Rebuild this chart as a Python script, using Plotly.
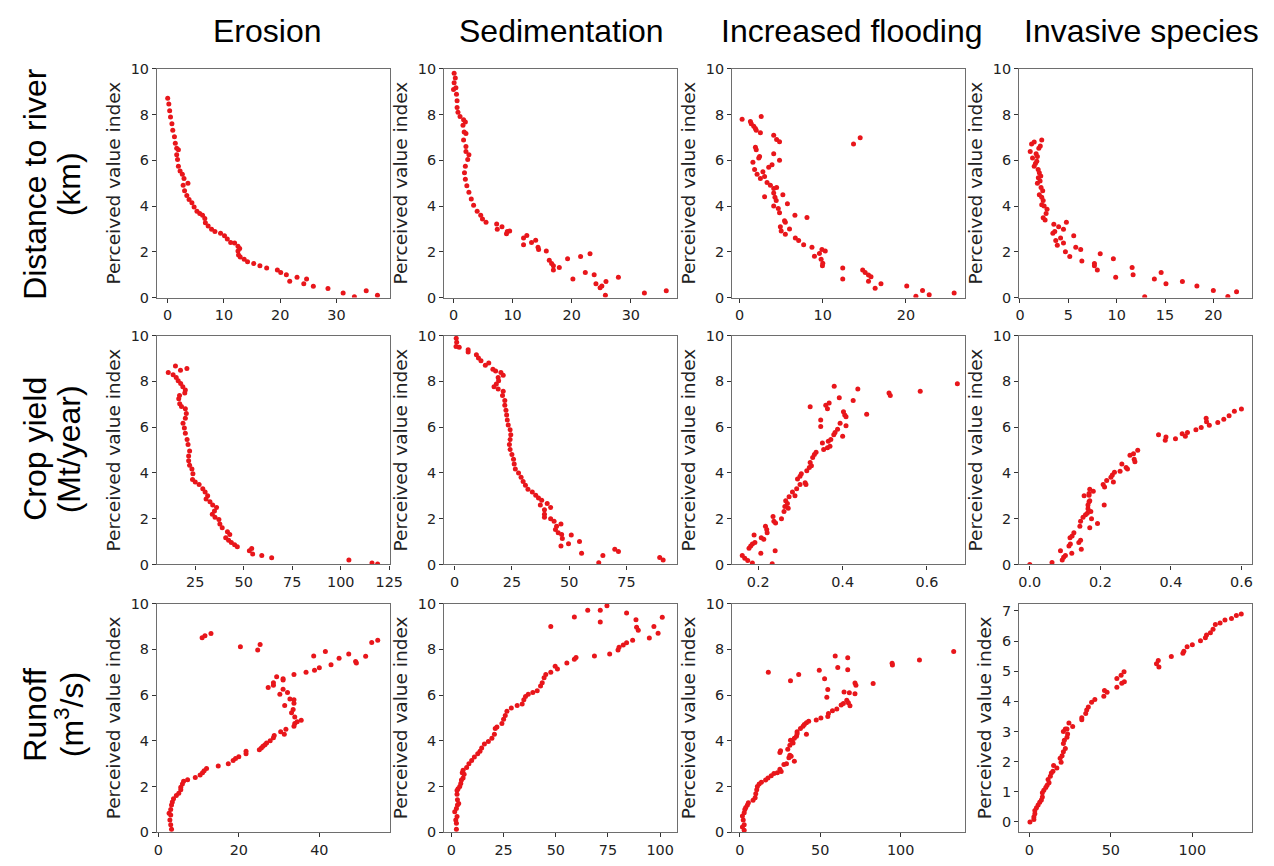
import plotly.graph_objects as go

# ---------------- data ----------------
# Row 1: Distance to river (km)
dist_erosion_x = [0, 0.2, 0.35, 0.5, 0.75, 0.9, 1.2, 1.35, 1.6, 1.9, 1.6, 1.75, 1.9, 2.2, 2.6, 2.9, 3.6, 2.75, 3.0, 3.4,
                  3.8, 4.3, 4.7, 5.2, 5.7, 6.2, 6.6, 6.7, 7.2, 7.8, 8.4, 9.4, 10.1, 10.6, 11.2, 11.9, 12.5, 12.8, 12.5, 12.6,
                  12.9, 13.6, 14.2, 15.3, 16.4, 17.6, 19.5, 20.1, 21.1, 21.7, 23.0, 24.2, 24.7, 25.9, 28.5, 31.2, 33.2, 35.3, 37.3]
dist_erosion_y = [8.71, 8.46, 8.17, 7.89, 7.6, 7.31, 7.03, 6.74, 6.53, 6.46, 6.24, 6.03, 5.74, 5.53, 5.39, 5.2, 5.0, 4.91, 4.67, 4.46,
                  4.29, 4.14, 3.96, 3.77, 3.67, 3.6, 3.46, 3.27, 3.13, 2.99, 2.89, 2.81, 2.7, 2.56, 2.41, 2.39, 2.24, 2.14, 2.03, 1.86,
                  1.77, 1.67, 1.57, 1.49, 1.39, 1.29, 1.2, 1.1, 1.0, 0.71, 0.89, 0.6, 0.81, 0.49, 0.4, 0.2, 0.03, 0.3, 0.1]

dist_sed_x = [0.1, 0.3, 0.1, 0.0, 0.4, 0.5, 0.6, 0.6, 0.75, 1.1, 1.7, 2.0, 1.6, 1.8, 2.1, 1.7, 2.1, 2.1, 2.6, 2.4,
              2.0, 1.85, 2.0, 2.25, 2.6, 3.0, 3.4, 4.0, 4.6, 4.9, 5.5, 7.3, 7.4, 8.2, 9.1, 9.5, 8.96, 11.85, 12.4, 11.85,
              13.2, 13.9, 14.3, 14.4, 15.7, 16.2, 16.6, 16.9, 16.9, 17.9, 19.3, 20.2, 21.5, 22.3, 23.1, 23.8, 24.1, 24.8, 25.1, 25.8,
              25.7, 27.9, 32.3, 36.0]
dist_sed_y = [9.81, 9.6, 9.39, 9.1, 9.17, 8.89, 8.6, 8.31, 8.1, 7.91, 7.77, 7.67, 7.53, 7.24, 7.17, 6.89, 6.6, 6.39, 6.24, 6.03,
              5.74, 5.46, 5.17, 4.89, 4.6, 4.31, 4.03, 3.77, 3.6, 3.43, 3.29, 3.21, 2.99, 3.1, 2.89, 2.91, 2.79, 2.6, 2.71, 2.31,
              2.41, 2.51, 2.2, 2.1, 2.03, 1.63, 1.49, 1.39, 1.21, 1.31, 1.7, 0.81, 1.79, 1.1, 1.91, 1.0, 0.6, 0.43, 0.51, 0.7,
              0.1, 0.89, 0.2, 0.3]

dist_flood_x = [0.3, 1.3, 1.4, 1.7, 1.9, 2.6, 2.0, 2.5, 4.1, 4.45, 4.8, 1.9, 2.0, 2.4, 2.3, 4.1, 4.8, 1.6, 1.8, 2.1,
                2.5, 2.8, 3.0, 3.5, 3.9, 3.3, 3.7, 4.1, 4.45, 3.0, 4.1, 4.25, 5.2, 4.1, 4.4, 4.65, 4.8, 5.75, 5.4, 5.5,
                4.9, 5.0, 5.5, 6.0, 6.65, 6.7, 7.1, 7.7, 8.1, 8.7, 9.0, 9.6, 9.9, 10.3, 9.8, 10.0, 9.96, 12.4, 12.4, 13.7,
                14.5, 14.8, 15.1, 15.5, 15.8, 15.5, 16.3, 17.0, 20.1, 21.2, 22.0, 22.8, 25.8]
dist_flood_y = [7.79, 7.7, 7.6, 7.49, 7.39, 7.91, 7.31, 7.2, 7.1, 6.91, 6.81, 6.57, 6.46, 6.17, 6.1, 6.29, 6.0, 5.91, 5.6, 5.39,
                5.2, 5.5, 5.29, 5.7, 5.8, 5.03, 4.91, 4.77, 4.81, 4.41, 4.57, 4.39, 4.49, 4.0, 4.24, 3.89, 3.71, 4.1, 3.36, 3.29,
                3.1, 2.91, 2.77, 3.0, 3.6, 2.6, 2.49, 2.31, 3.5, 2.2, 1.81, 1.93, 2.1, 2.03, 1.67, 1.5, 1.39, 1.29, 0.81, 6.71,
                6.99, 1.21, 1.1, 0.99, 0.91, 0.71, 0.41, 0.6, 0.5, 0.06, 0.31, 0.12, 0.2]

dist_inv_x = [1.06, 1.3, 1.2, 1.47, 2.25, 1.67, 1.8, 1.95, 2.1, 1.47, 1.6, 1.74, 1.88, 2.0, 2.15, 1.9, 1.8, 2.08, 2.18, 2.35,
              2.0, 2.25, 2.4, 2.25, 2.5, 2.8, 2.7, 2.4, 2.6, 3.5, 3.4, 3.6, 4.0, 4.5, 4.8, 3.7, 3.86, 4.2, 4.5, 4.7,
              5.15, 5.56, 5.77, 6.28, 6.4, 8.3, 7.7, 7.7, 8.0, 9.66, 9.9, 11.6, 11.7, 12.9, 13.9, 14.6, 15.1, 16.8, 18.3, 20.0,
              21.5, 22.4]
dist_inv_y = [6.39, 6.1, 6.71, 6.8, 6.89, 6.29, 6.17, 6.53, 6.63, 5.74, 5.86, 5.96, 5.6, 5.46, 5.31, 5.24, 5.0, 5.1, 4.81, 4.67,
              4.49, 4.39, 4.24, 4.06, 4.0, 3.86, 3.67, 3.49, 3.39, 3.2, 2.81, 2.89, 3.1, 2.99, 3.29, 2.49, 2.29, 2.6, 2.39, 2.0,
              1.79, 2.7, 2.2, 2.1, 1.6, 1.91, 1.49, 1.39, 1.2, 1.7, 0.89, 1.31, 1.0, 0.03, 0.81, 1.1, 0.6, 0.7, 0.5, 0.31,
              0.05, 0.25]

# Row 2: Crop yield (Mt/year)
crop_erosion_x = [11.1, 14.8, 13.6, 17.4, 20.7, 15.2, 16.2, 17.5, 18.6, 19.9, 19.6, 16.9, 16.5, 17.0, 17.9, 19.9, 20.4, 19.9, 18.7, 19.4,
                  19.9, 20.8, 21.3, 22.1, 21.6, 21.6, 22.1, 23.3, 23.8, 23.6, 25.0, 27.0, 28.9, 30.1, 31.4, 30.6, 32.6, 34.0, 36.0, 34.9,
                  33.8, 35.2, 37.2, 37.7, 38.9, 41.6, 42.8, 40.7, 42.2, 43.6, 45.3, 46.7, 52.9, 54.1, 54.6, 59.3, 64.4, 104.2, 116.1, 119.0]
crop_erosion_y = [8.39, 8.67, 8.29, 8.49, 8.57, 8.17, 8.03, 7.91, 7.77, 7.63, 7.49, 7.39, 7.24, 7.03, 6.91, 6.81, 6.6, 6.39, 6.17, 5.96,
                  5.74, 5.46, 5.24, 4.96, 4.74, 4.53, 4.34, 4.17, 3.96, 3.71, 3.6, 3.49, 3.31, 3.17, 3.0, 2.86, 2.74, 2.6, 2.49, 2.34,
                  2.2, 2.06, 1.96, 1.77, 1.6, 1.43, 1.31, 1.17, 1.06, 0.96, 0.86, 0.77, 0.6, 0.7, 0.46, 0.39, 0.29, 0.2, 0.06, 0.02]

crop_sed_x = [0.7, 0.9, 0.6, 2.0, 5.9, 5.9, 9.5, 10.4, 11.5, 13.4, 14.9, 16.7, 17.9, 20.2, 21.2, 19.0, 19.2, 18.2, 17.2, 19.0,
              21.2, 20.9, 21.9, 21.9, 22.4, 22.7, 23.0, 23.4, 24.2, 24.5, 24.2, 23.9, 24.2, 25.0, 25.7, 26.0, 26.5, 27.9, 29.0, 29.9,
              30.9, 32.0, 33.9, 35.4, 36.6, 38.0, 37.4, 40.4, 41.9, 39.2, 39.2, 39.2, 41.9, 43.4, 46.4, 44.5, 44.0, 45.2, 46.7, 47.0,
              50.9, 49.7, 46.4, 54.5, 55.4, 62.9, 64.7, 69.9, 71.5, 89.5, 91.0]
crop_sed_y = [9.89, 9.71, 9.53, 9.49, 9.39, 9.29, 9.17, 9.03, 8.91, 8.71, 8.81, 8.53, 8.46, 8.39, 8.27, 8.17, 8.03, 7.89, 7.77, 7.67,
              7.57, 7.39, 7.17, 6.96, 6.74, 6.53, 6.31, 6.1, 5.89, 5.67, 5.46, 5.24, 5.03, 4.81, 4.6, 4.39, 4.17, 4.0, 3.81, 3.63,
              3.46, 3.29, 3.17, 3.03, 2.91, 2.81, 2.6, 2.67, 2.49, 2.39, 2.2, 2.06, 2.0, 1.89, 1.77, 1.67, 1.53, 1.39, 1.31, 1.14,
              1.29, 0.91, 0.81, 1.0, 0.49, 0.07, 0.39, 0.67, 0.57, 0.3, 0.2]

crop_flood_x = [0.162, 0.168, 0.175, 0.186, 0.178, 0.182, 0.186, 0.192, 0.19, 0.206, 0.207, 0.213, 0.217, 0.22, 0.221, 0.233, 0.235, 0.237,
                0.241, 0.24, 0.255, 0.261, 0.263, 0.265, 0.269, 0.271, 0.273, 0.281, 0.287, 0.291, 0.293, 0.299, 0.299, 0.302, 0.311,
                0.313, 0.315, 0.321, 0.323, 0.326, 0.329, 0.333, 0.337, 0.323, 0.348, 0.348, 0.352, 0.355, 0.36, 0.364, 0.368, 0.364,
                0.366, 0.37, 0.372, 0.379, 0.382, 0.388, 0.392, 0.38, 0.394, 0.4, 0.402, 0.405, 0.408, 0.408, 0.425, 0.436, 0.457,
                0.51, 0.513, 0.584, 0.672]
crop_flood_y = [0.39, 0.27, 0.17, 0.06, 0.71, 0.81, 0.89, 0.96, 1.29, 0.49, 1.17, 1.1, 1.67, 1.53, 1.39, 0.03, 2.1, 1.89,
                1.81, 0.6, 2.0, 2.31, 2.53, 2.79, 2.67, 2.46, 2.96, 3.17, 3.0, 3.31, 3.74, 3.49, 3.86, 3.96, 3.57,
                3.49, 4.1, 4.24, 4.46, 4.31, 4.67, 4.81, 4.91, 6.89, 6.31, 6.03, 5.31, 5.03, 6.96, 6.81, 7.06, 5.1,
                5.39, 5.17, 5.46, 5.67, 5.77, 5.91, 7.29, 7.79, 6.17, 5.6, 6.67, 6.53, 6.46, 6.06, 7.17, 7.67, 6.57,
                7.49, 7.39, 7.57, 7.9]

crop_inv_x = [0.0, 0.063, 0.087, 0.092, 0.096, 0.101, 0.111, 0.115, 0.114, 0.12, 0.125, 0.119, 0.139, 0.144, 0.146, 0.142, 0.144, 0.151,
              0.154, 0.158, 0.163, 0.165, 0.165, 0.168, 0.168, 0.17, 0.168, 0.17, 0.173, 0.175, 0.17, 0.18, 0.192, 0.208, 0.212,
              0.211, 0.218, 0.23, 0.234, 0.237, 0.24, 0.256, 0.261, 0.273, 0.277, 0.284, 0.294, 0.296, 0.298, 0.306, 0.365, 0.384,
              0.386, 0.413, 0.432, 0.441, 0.447, 0.471, 0.486, 0.5, 0.501, 0.509, 0.533, 0.55, 0.565, 0.58, 0.6]
crop_inv_y = [0.0, 0.09, 0.6, 0.2, 0.31, 0.39, 0.81, 0.89, 1.17, 1.24, 1.39, 0.49, 0.96, 1.06, 0.67, 1.67, 1.89, 2.06,
              3.0, 2.17, 2.24, 2.43, 2.6, 2.74, 3.03, 3.29, 3.1, 2.79, 2.31, 2.0, 1.6, 3.2, 1.79, 3.49, 3.39,
              2.6, 3.67, 3.81, 3.91, 3.6, 4.03, 4.07, 4.39, 4.24, 4.17, 4.77, 4.84, 4.6, 4.49, 4.99, 5.67, 5.43,
              5.57, 5.5, 5.71, 5.6, 5.77, 5.89, 5.99, 6.39, 6.24, 6.09, 6.2, 6.35, 6.5, 6.7, 6.8]

# Row 3: Runoff (m3/s)
run_erosion_x = [3.3, 3.1, 2.9, 3.1, 2.7, 3.1, 3.3, 3.5, 3.8, 4.5, 5.1, 5.6, 5.6, 6.0, 6.3, 7.3, 9.2, 10.4, 11.0, 11.4,
                 12.0, 14.9, 17.4, 18.6, 19.2, 20.0, 21.8, 21.8, 25.1, 25.6, 26.0, 26.5, 26.9, 27.8, 28.6, 28.8, 30.4, 31.3, 31.7, 33.7,
                 33.9, 34.5, 35.5, 33.9, 33.1, 33.5, 33.7, 33.7, 32.7, 32.1, 31.4, 30.2, 31.0, 31.0, 31.0, 28.6, 28.6, 27.3, 29.4, 33.7,
                 36.7, 38.8, 40.0, 42.9, 44.9, 38.6, 41.5, 47.3, 49.0, 49.2, 10.9, 11.6, 13.1, 20.4, 24.7, 25.3, 51.5, 53.0, 54.5]
run_erosion_y = [0.14, 0.33, 0.54, 0.76, 0.83, 1.0, 1.19, 1.33, 1.47, 1.61, 1.71, 1.86, 1.97, 2.11, 2.23, 2.3, 2.4, 2.51, 2.6, 2.69,
                 2.79, 2.9, 3.0, 3.14, 3.23, 3.3, 3.43, 3.54, 3.61, 3.69, 3.76, 3.83, 3.9, 4.0, 4.14, 4.23, 4.4, 4.29, 4.51, 4.64,
                 4.76, 4.83, 4.9, 5.04, 5.23, 5.37, 5.64, 5.8, 5.83, 6.11, 5.54, 6.04, 6.26, 6.66, 6.71, 6.54, 6.43, 6.33, 6.8, 6.9,
                 7.0, 7.09, 7.19, 7.33, 7.61, 7.71, 7.9, 7.8, 7.47, 7.4, 8.51, 8.59, 8.69, 8.11, 7.97, 8.21, 7.7, 8.3, 8.4]

run_sed_x = [2.4, 2.4, 2.1, 2.7, 1.6, 2.4, 2.9, 3.5, 2.9, 2.7, 2.7, 3.2, 4.0, 4.5, 4.8, 5.6, 6.1, 5.2, 5.6, 7.3,
             8.4, 9.7, 11.0, 12.6, 13.7, 14.5, 15.8, 17.7, 19.4, 20.6, 21.0, 21.8, 24.2, 25.0, 25.8, 26.6, 28.7, 31.5, 33.9, 34.7,
             35.5, 36.8, 39.0, 41.1, 42.7, 43.5, 44.4, 45.2, 47.6, 49.7, 50.8, 55.3, 58.9, 59.7, 68.5, 75.8, 79.8, 80.3, 82.3, 86.8,
             83.9, 89.5, 88.7, 88.4, 83.9, 74.5, 71.3, 71.3, 65.3, 58.9, 47.6, 94.8, 97.0, 99.0, 101.0]
run_sed_y = [0.14, 0.4, 0.54, 0.69, 0.9, 1.04, 1.19, 1.26, 1.43, 1.66, 1.83, 1.9, 2.0, 2.14, 2.29, 2.37, 2.54, 2.61, 2.71, 2.83,
             3.0, 3.14, 3.29, 3.43, 3.54, 3.69, 3.86, 3.97, 4.11, 4.29, 4.54, 4.61, 4.76, 4.94, 5.11, 5.29, 5.43, 5.54, 5.61, 5.8,
             5.94, 6.04, 6.11, 6.19, 6.4, 6.54, 6.76, 6.9, 7.0, 7.26, 7.14, 7.4, 7.57, 7.64, 7.71, 7.8, 7.97, 8.09, 8.19, 8.4,
             8.29, 8.83, 8.97, 9.29, 9.59, 9.9, 9.71, 9.19, 9.71, 9.41, 9.0, 8.49, 9.0, 8.7, 9.4]

run_flood_x = [2.7, 1.6, 2.7, 2.1, 1.6, 2.7, 3.1, 3.7, 4.7, 5.3, 8.2, 9.5, 9.9, 10.5, 10.9, 12.0, 13.4, 16.0, 17.5, 19.5,
               21.2, 23.3, 24.9, 25.7, 27.4, 29.0, 30.5, 31.1, 31.9, 33.9, 24.9, 25.3, 29.8, 31.1, 32.5, 31.5, 33.9, 33.1, 35.2, 35.6,
               37.7, 39.3, 40.1, 41.4, 42.8, 35.6, 41.4, 47.5, 50.4, 55.1, 54.7, 57.6, 60.3, 63.0, 64.4, 66.5, 67.5, 68.5, 71.6, 72.2,
               68.1, 64.8, 54.7, 54.1, 71.6, 17.7, 31.5, 36.6, 49.4, 52.7, 59.3, 60.9, 67.1, 67.1, 82.9, 94.7, 94.9, 111.7, 133.0]
run_flood_y = [0.09, 0.23, 0.33, 0.54, 0.71, 0.86, 1.0, 1.09, 1.19, 1.29, 1.4, 1.51, 1.69, 1.86, 2.0, 2.11, 2.19, 2.29, 2.37, 2.47,
               2.57, 2.61, 2.76, 2.66, 2.97, 3.0, 3.26, 3.37, 3.33, 3.11, 3.49, 3.57, 3.63, 3.81, 4.0, 4.03, 4.11, 3.91, 4.2, 4.4,
               4.54, 4.64, 4.71, 4.79, 4.86, 4.31, 4.29, 4.91, 5.0, 5.2, 5.06, 5.31, 5.39, 5.57, 5.63, 5.77, 5.67, 5.53, 6.06, 6.43,
               6.1, 6.13, 6.24, 5.91, 6.53, 7.0, 6.63, 6.9, 7.09, 6.71, 7.71, 7.21, 7.63, 7.11, 6.51, 7.39, 7.31, 7.53, 7.9]

run_inv_x = [0.4, 2.8, 2.8, 3.4, 3.4, 4.4, 5.4, 6.4, 7.4, 8.0, 8.0, 8.9, 10.1, 10.9, 12.1, 11.5, 12.9, 13.5, 14.5, 14.9,
             16.9, 18.9, 19.5, 20.1, 20.9, 22.1, 20.9, 21.5, 23.1, 23.5, 22.1, 20.9, 23.1, 24.3, 26.6, 32.2, 32.2, 34.6, 35.2, 36.2,
             38.2, 40.2, 45.7, 46.1, 47.7, 53.7, 53.7, 56.3, 58.1, 58.3, 56.7, 78.0, 79.1, 79.5, 87.1, 94.2, 94.8, 96.8, 100.0, 105.0,
             108.0, 108.7, 111.1, 112.7, 114.1, 117.0, 120.0, 124.0, 127.0, 130.0]
run_inv_y = [0.0, 0.08, 0.16, 0.27, 0.38, 0.47, 0.56, 0.65, 0.73, 0.83, 0.97, 1.05, 1.14, 1.22, 1.3, 1.41, 1.52, 1.62, 1.68, 1.87,
             1.79, 2.11, 1.98, 2.2, 2.33, 2.44, 2.6, 2.71, 2.81, 2.92, 3.08, 3.0, 3.08, 3.28, 3.17, 3.39, 3.46, 3.6, 3.71, 3.81,
             3.97, 4.06, 4.17, 4.36, 4.3, 4.47, 4.76, 4.87, 4.98, 4.65, 4.6, 5.25, 5.36, 5.14, 5.49, 5.6, 5.66, 5.81, 5.88, 6.01,
             6.11, 6.2, 6.28, 6.39, 6.55, 6.6, 6.7, 6.75, 6.85, 6.9]

col_titles = ["Erosion", "Sedimentation", "Increased flooding", "Invasive species"]
row_titles = [["Distance to river", "(km)"], ["Crop yield", "(Mt/year)"], ["Runoff", "(m<sup>3</sup>/s)"]]
y_title = "Perceived value index"

panels = [
    [(dist_erosion_x, dist_erosion_y), (dist_sed_x, dist_sed_y), (dist_flood_x, dist_flood_y), (dist_inv_x, dist_inv_y)],
    [(crop_erosion_x, crop_erosion_y), (crop_sed_x, crop_sed_y), (crop_flood_x, crop_flood_y), (crop_inv_x, crop_inv_y)],
    [(run_erosion_x, run_erosion_y), (run_sed_x, run_sed_y), (run_flood_x, run_flood_y), (run_inv_x, run_inv_y)],
]

# axis settings (range, tick step)
x_ranges = [
    [[-1.9, 39.5], [-1.6, 37.8], [-0.9, 27.1], [-0.08, 24.0]],
    [[5.3, 125.3], [-4.6, 97.0], [0.138, 0.69], [-0.03, 0.63]],
    [[-0.3, 57.5], [-3.5, 108.0], [-4.8, 140.0], [-6.2, 136.6]],
]
x_dticks = [
    [10, 10, 10, 5],
    [25, 25, 0.2, 0.2],
    [20, 25, 50, 50],
]
y_ranges = [
    [[0, 10]] * 4,
    [[0, 10]] * 4,
    [[0, 10], [0, 10], [0, 10], [-0.345, 7.245]],
]
y_dticks = [[2] * 4, [2] * 4, [2, 2, 2, 1]]

# ---------------- layout geometry ----------------
OFF = 8
W, H = 1274 - 2 * OFF, 866 - 2 * OFF
col_left = [155, 446, 738, 1029]
box_w = 236
row_top = [62, 335, 609]
row_bot = [296, 569, 843]


def px_x(v):
    return (v - OFF) / W


def px_y(v):
    return 1 - (v - OFF) / H


fig = go.Figure()
layout = dict(
    width=W, height=H, margin=dict(l=0, r=0, t=0, b=0), autosize=False,
    paper_bgcolor="white", plot_bgcolor="white", showlegend=False,
)

tick_font = dict(family="DejaVu Sans", size=14.4, color="#222")
for r in range(3):
    for c in range(4):
        k = r * 4 + c + 1
        xn = "xaxis" if k == 1 else f"xaxis{k}"
        yn = "yaxis" if k == 1 else f"yaxis{k}"
        xr = "x" if k == 1 else f"x{k}"
        yr = "y" if k == 1 else f"y{k}"
        xs, ys = panels[r][c]
        fig.add_trace(go.Scatter(
            x=xs, y=ys, mode="markers", xaxis=xr, yaxis=yr,
            marker=dict(color="#e8161b", size=5, line=dict(width=0)),
            hoverinfo="x+y",
        ))
        fmt = ".1f" if (r == 1 and c >= 2) else ""
        layout[xn] = dict(
            domain=[px_x(col_left[c]), px_x(col_left[c] + box_w)],
            range=x_ranges[r][c], dtick=x_dticks[r][c], tick0=0, tickformat=fmt,
            anchor=yr, showgrid=False, zeroline=False,
            showline=True, mirror=True, linecolor="#6e6e6e", linewidth=1.3,
            ticks="outside", ticklen=4, tickcolor="#333", tickfont=tick_font,
        )
        layout[yn] = dict(
            domain=[px_y(row_bot[r]), px_y(row_top[r])],
            range=y_ranges[r][c], dtick=y_dticks[r][c], tick0=0,
            anchor=xr, showgrid=False, zeroline=False,
            showline=True, mirror=True, linecolor="#6e6e6e", linewidth=1.3,
            ticks="outside", ticklen=4, tickcolor="#333", tickfont=tick_font,
            title=dict(text=y_title, font=dict(family="DejaVu Sans", size=18.5, color="#222"), standoff=5),
        )

annotations = []
col_centers = [267, 565, 859, 1153]
for c, t in enumerate(col_titles):
    annotations.append(dict(
        text=t, x=px_x(col_centers[c]), y=px_y(23), xref="paper", yref="paper",
        xanchor="center", yanchor="middle", showarrow=False,
        font=dict(family="Liberation Sans", size=32, color="black"),
    ))
row_centers = [180, 451, 723]
line_x = [31, 66]
for r, lines in enumerate(row_titles):
    for li, t in enumerate(lines):
        annotations.append(dict(
            text=t, x=px_x(line_x[li]), y=px_y(row_centers[r]), xref="paper", yref="paper",
            xanchor="center", yanchor="middle", showarrow=False, textangle=-90,
            font=dict(family="Liberation Sans", size=32, color="black"),
        ))
layout["annotations"] = annotations
fig.update_layout(**layout)

fig.write_html("out.html", config={"displayModeBar": False})
